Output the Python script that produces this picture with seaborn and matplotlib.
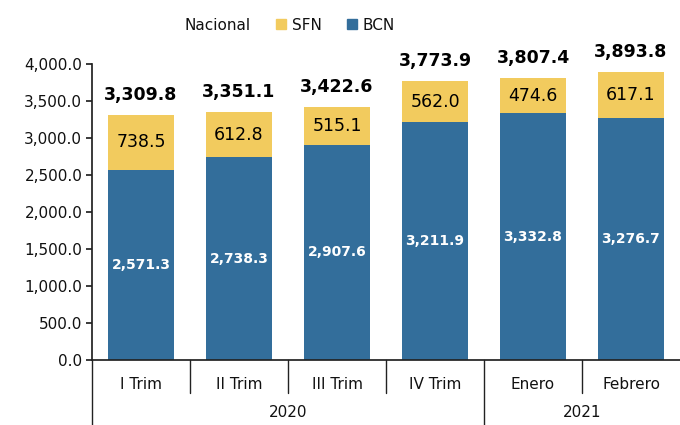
import matplotlib
matplotlib.use("Agg")
import matplotlib.pyplot as plt
import seaborn as sns
import pandas as pd
from matplotlib.patches import Patch
from matplotlib.lines import Line2D

categories = ["I Trim", "II Trim", "III Trim", "IV Trim", "Enero", "Febrero"]
years = ["2020", "2020", "2020", "2020", "2021", "2021"]
bcn = [2571.3, 2738.3, 2907.6, 3211.9, 3332.8, 3276.7]
sfn = [738.5, 612.8, 515.1, 562.0, 474.6, 617.1]
total = [3309.8, 3351.1, 3422.6, 3773.9, 3807.4, 3893.8]

sns.set_theme(style="white")
plt.rcParams['font.family'] = ['DejaVu Sans']
plt.rcParams['text.color'] = '#111111'
plt.rcParams['xtick.color'] = '#111111'
plt.rcParams['ytick.color'] = '#111111'

df = pd.DataFrame({"cat": categories, "bcn": bcn, "sfn": sfn, "total": total})

c_blue = "#336E9B"
c_yel = "#F2CB5E"

fig = plt.figure(figsize=(6.8, 4.25), dpi=100)
ax = fig.add_axes([92/680, 65/425, 588/680, 296/425])

sns.barplot(data=df, x="cat", y="total", color=c_yel, saturation=1, width=0.67, ax=ax, linewidth=0)
sns.barplot(data=df, x="cat", y="bcn", color=c_blue, saturation=1, width=0.67, ax=ax, linewidth=0)

ax.set_ylim(0, 4000)
ax.set_xlim(-0.5, len(categories) - 0.5)
ax.set_yticks([i * 500 for i in range(9)])
ax.set_yticklabels([f"{v:,.1f}" for v in ax.get_yticks()], fontsize=11)
ax.set_xlabel("")
ax.set_ylabel("")
for s in ["top", "right"]:
    ax.spines[s].set_visible(False)
ax.spines["left"].set_color("#222222")
ax.spines["bottom"].set_color("#222222")
ax.tick_params(axis="y", which="major", left=True, length=4, color="#222222", pad=3)
ax.tick_params(axis="x", length=0, pad=12, labelsize=11)

for i in range(len(categories)):
    ax.text(i, bcn[i] / 2, f"{bcn[i]:,.1f}", ha="center", va="center", color="white",
            fontsize=10, fontweight="bold")
    ax.text(i, bcn[i] + sfn[i] / 2, f"{sfn[i]:,.1f}", ha="center", va="center", color="black",
            fontsize=12.5)
    ax.text(i, total[i] + 150, f"{total[i]:,.1f}", ha="center", va="bottom", color="black",
            fontsize=12.5, fontweight="bold")

trans = ax.get_xaxis_transform()
# left spine extension
ax.plot([-0.5, -0.5], [0, -0.22], transform=trans, color="#222222", lw=1, clip_on=False)
for i in range(len(categories) - 1):
    b = i + 0.5
    if years[i] != years[i + 1]:
        ax.plot([b, b], [0, -0.22], transform=trans, color="#222222", lw=1, clip_on=False)
    else:
        ax.plot([b, b], [0, -0.112], transform=trans, color="#222222", lw=1, clip_on=False)

# year labels
uniq = []
for y in years:
    if y not in uniq:
        uniq.append(y)
for y in uniq:
    idx = [i for i, yy in enumerate(years) if yy == y]
    ax.text(sum(idx) / len(idx), -0.178, y, transform=trans, ha="center", va="center", fontsize=11)

handles = [Line2D([], [], color="none"), Patch(color=c_yel), Patch(color=c_blue)]
labels = ["Nacional", "SFN", "BCN"]
fig.legend(handles, labels, ncol=3, frameon=False, loc="center", bbox_to_anchor=(282/680, 1 - 25/425),
           fontsize=11, handlelength=0.6, handleheight=0.6, handletextpad=0.4, columnspacing=1.7)

fig.savefig("out.png", dpi=100, facecolor="white")
